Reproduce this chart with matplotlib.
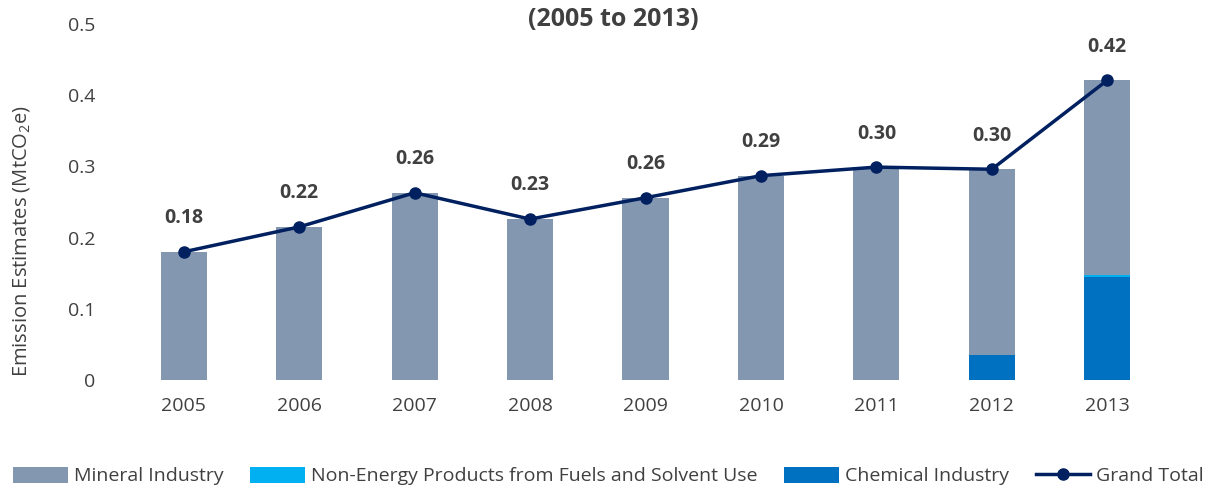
import numpy as np
import matplotlib.pyplot as plt

plt.rcParams['font.family'] = ['Open Sans', 'DejaVu Sans']
plt.rcParams['mathtext.fontset'] = 'custom'
plt.rcParams['mathtext.rm'] = 'Open Sans'

years = ['2005', '2006', '2007', '2008', '2009', '2010', '2011', '2012', '2013']
grand_total = [0.180, 0.215, 0.263, 0.226, 0.256, 0.287, 0.299, 0.296, 0.421]
chemical = [0, 0, 0, 0, 0, 0, 0, 0.035, 0.145]
non_energy = [0, 0, 0, 0, 0, 0, 0, 0, 0.003]
labels = ['0.18', '0.22', '0.26', '0.23', '0.26', '0.29', '0.30', '0.30', '0.42']

total = np.array(grand_total)
chem = np.array(chemical)
nonen = np.array(non_energy)
mineral = total - chem - nonen

txt = '#404040'
fig = plt.figure(figsize=(12.05, 4.88), dpi=100)
ax = fig.add_axes([126/1205, 1-380/488, (1165-126)/1205, (380-24)/488])

x = np.arange(len(years))
w = 0.4
ax.bar(x, mineral, w, bottom=chem + nonen, color='#8497b0', label='Mineral Industry')
ax.bar(x, nonen, w, bottom=chem, color='#00b0f0', label='Non-Energy Products from Fuels and Solvent Use')
ax.bar(x, chem, w, color='#0070c0', label='Chemical Industry')
ax.plot(x, total, color='#002060', lw=2.5, marker='o', ms=8, label='Grand Total')

for xi, yi, s in zip(x, total, labels):
    ax.annotate(s, (xi, yi), xytext=(0, 17), textcoords='offset points',
                ha='center', va='bottom', fontsize=14, fontweight='bold', color=txt)

ax.set_xlim(-0.5, len(years) - 0.5)
ax.set_ylim(0, 0.5)
ax.set_yticks([0, 0.1, 0.2, 0.3, 0.4, 0.5])
ax.set_yticklabels(['0', '0.1', '0.2', '0.3', '0.4', '0.5'])
ax.set_xticks(x)
ax.set_xticklabels(years)
ax.tick_params(length=0, labelsize=14, labelcolor=txt)
ax.tick_params(axis='y', pad=22)
ax.tick_params(axis='x', pad=12)
for sp in ax.spines.values():
    sp.set_visible(False)
ax.set_ylabel('Emission Estimates (MtCO$_2$e)', fontsize=14.5, color=txt)
ax.yaxis.set_label_coords(-0.09, 0.39)

fig.text(0.509, 1-20/488, '(2005 to 2013)', ha='center', va='center',
         fontsize=18, fontweight='bold', color=txt)

handles, names = ax.get_legend_handles_labels()
order = [1, 2, 3, 0]
fig.legend([handles[i] for i in order], [names[i] for i in order],
           loc='center', bbox_to_anchor=(0.505, 1-476/488), ncol=4, frameon=False,
           fontsize=14, labelcolor=txt, handlelength=2.8, handleheight=0.9,
           handletextpad=0.3, columnspacing=1.4, borderaxespad=0)

fig.savefig('out.png', dpi=100)
